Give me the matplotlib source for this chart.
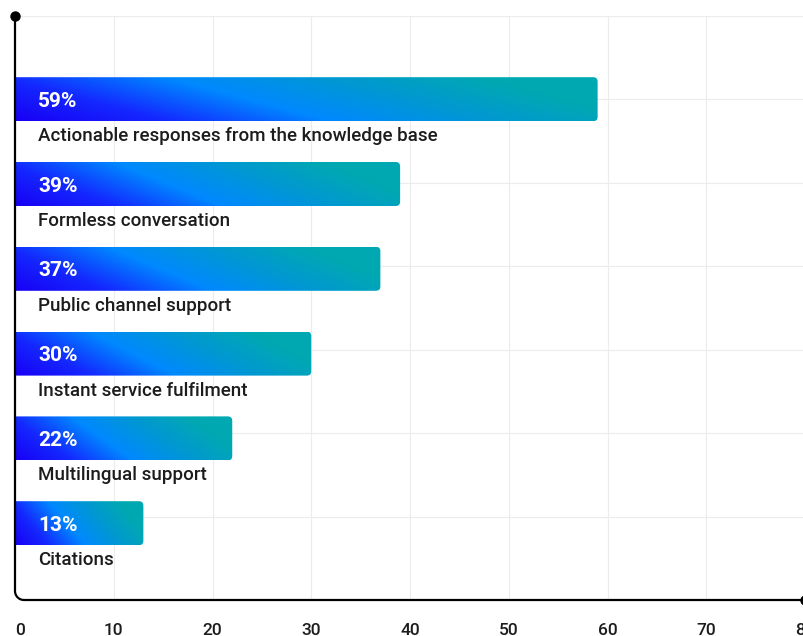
import numpy as np
import matplotlib
matplotlib.use("Agg")
import matplotlib.pyplot as plt
from matplotlib.colors import LinearSegmentedColormap
from matplotlib.patches import FancyBboxPatch

plt.rcParams['font.family'] = ['Roboto', 'DejaVu Sans']

categories = [
    "Actionable responses from the knowledge base",
    "Formless conversation",
    "Public channel support",
    "Instant service fulfilment",
    "Multilingual support",
    "Citations",
]
shares = [59, 39, 37, 30, 22, 13]
value_labels = [f"{v}%" for v in shares]
x_ticks = [0, 10, 20, 30, 40, 50, 60, 70, 80]

# layout in pixels (figure is 804 x 636 at dpi 100)
W, H = 804, 636
AX_L, AX_R = 15, 805          # x = 0 .. 80
AX_T, AX_B = 16, 600
PX_PER_UNIT = (AX_R - AX_L) / 80.0
ROW0, ROW_STEP, BAR_H = 99.2, 84.8, 44

bar_cmap = LinearSegmentedColormap.from_list(
    "bars",
    [(0.0, "#1800f4"), (0.20, "#1428ff"), (0.42, "#0088ff"),
     (0.64, "#0098d2"), (0.84, "#00a8b2"), (1.0, "#00a8b2")])

fig = plt.figure(figsize=(W / 100, H / 100), dpi=100)
ax = fig.add_axes([AX_L / W, (H - AX_B) / H, (AX_R - AX_L) / W, (AX_B - AX_T) / H])
ax.axis("off")

# light grid
for xv in x_ticks[1:-1]:
    ax.plot([xv, xv], [AX_B, AX_T], color="#ececec", lw=0.8, zorder=0)
for yv in np.linspace(AX_T, AX_B, 8)[:-1]:
    ax.plot([0, 80], [yv, yv], color="#ececec", lw=0.8, zorder=0)

# gradient bars, rounded on the right end
nu, nv = 200, 40
uu, vv = np.meshgrid(np.linspace(0, 1, nu), np.linspace(0, 1, nv))
grad = (uu + 0.28 * vv) / 1.28
for i, (val, lab, cat) in enumerate(zip(shares, value_labels, categories)):
    yc = ROW0 + i * ROW_STEP
    top, bot = yc - BAR_H / 2, yc + BAR_H / 2
    img = ax.imshow(grad, cmap=bar_cmap, vmin=0, vmax=1, origin="lower",
                    extent=(0, val, bot, top), aspect="auto",
                    interpolation="bilinear", zorder=2)
    clip = FancyBboxPatch((-1, top), val + 1, BAR_H,
                          boxstyle="round,pad=0,rounding_size=0.45",
                          mutation_aspect=PX_PER_UNIT,
                          transform=ax.transData, facecolor="none",
                          edgecolor="none")
    ax.add_patch(clip)
    img.set_clip_path(clip)
    ax.text(23 / PX_PER_UNIT, yc + 2, lab, color="white", fontsize=15,
            fontweight="bold", va="center", ha="left", zorder=3)
    ax.text(23 / PX_PER_UNIT, yc + 37, cat, color="#1c1c1c", fontsize=13.5,
            fontweight="medium", va="center", ha="left", zorder=3)

ax.set_xlim(0, 80)
ax.set_ylim(AX_B, AX_T)

# axis line with rounded corner and end dots
r = 9.0
theta = np.linspace(np.pi, 1.5 * np.pi, 20)
arc_x = (r + r * np.cos(theta)) / PX_PER_UNIT
arc_y = (AX_B - r) - r * np.sin(theta)
px = np.concatenate([[0], arc_x, [80]])
py = np.concatenate([[AX_T], arc_y, [AX_B]])
ax.plot(px, py, color="black", lw=1.6, solid_capstyle="round", clip_on=False, zorder=4)
ax.plot([0, 80], [AX_T, AX_B], linestyle="none", marker="o", markersize=6.5,
        color="black", clip_on=False, zorder=5)

for xv in x_ticks:
    ax.text(xv, AX_B + 30, str(xv), fontsize=12.5, fontweight="medium",
            color="#1c1c1c", ha="left" if xv == 0 else "center", va="center",
            clip_on=False)

fig.savefig("out.png", dpi=100)
